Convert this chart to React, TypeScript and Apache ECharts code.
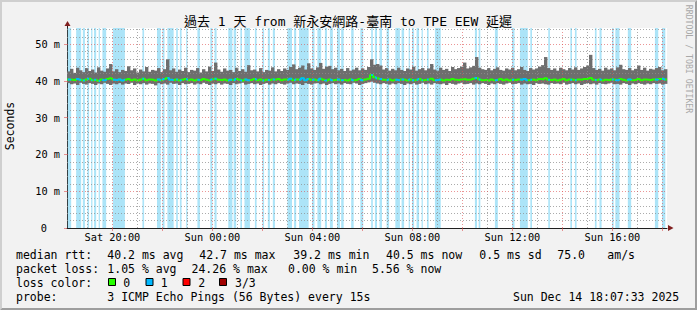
import React, { useEffect, useRef } from 'react';
import * as echarts from 'echarts';

// time in minutes since Sat 00:00
const SAMPLE_START = 1091;
const SAMPLE_STEP = 7.2;
const RANGE_END = 2531;
const Y_MAX = 54.4;

const smokeMax = [
  42.6, 43.3, 42.2, 43.6, 42.9, 42.4, 43.5, 42.7, 43.1, 42.3,
  43.7, 42.8, 42.5, 43.4, 44.6, 42.6, 43.2, 42.4, 43.0, 42.7,
  44.0, 42.9, 43.4, 42.3, 43.1, 42.6, 43.8, 42.5, 43.0, 42.8,
  43.5, 42.4, 43.2, 45.9, 42.9, 43.4, 42.5, 43.1, 42.7, 43.6,
  42.4, 43.0, 42.8, 43.5, 42.3, 43.2, 42.6, 43.9, 42.7, 45.0,
  43.1, 42.5, 43.4, 42.8, 43.0, 42.4, 43.6, 42.7, 43.2, 42.5,
  44.3, 42.9, 43.1, 42.6, 43.5, 42.4, 43.0, 42.8, 43.7, 42.6,
  43.2, 42.7, 43.4, 43.0, 43.8, 44.5, 43.2, 43.6, 44.2, 43.1,
  44.8, 43.4, 43.0, 43.7, 44.9, 43.3, 43.9, 44.1, 43.2, 43.6,
  42.9, 43.3, 42.7, 43.5, 42.8, 43.1, 43.6, 42.9, 43.4, 43.0,
  43.8, 45.9, 44.4, 44.6, 44.2, 43.1, 43.5, 42.8, 43.3, 42.9,
  43.6, 43.0, 42.7, 43.4, 43.1, 43.9, 42.8, 43.2, 43.5, 42.9,
  43.4, 44.6, 43.1, 42.8, 43.6, 43.0, 43.3, 42.7, 43.8, 43.2,
  43.5, 43.9, 45.0, 43.4, 43.7, 44.1, 46.5, 43.6, 43.2, 43.0,
  43.5, 42.9, 43.3, 43.7, 43.0, 42.8, 43.4, 43.1, 43.6, 42.9,
  43.2, 43.8, 43.0, 42.7, 43.5, 43.1, 43.4, 43.9, 44.3, 46.5,
  43.5, 43.0, 43.4, 42.8, 43.6, 43.2, 42.9, 43.5, 43.1, 43.7,
  43.0, 43.4, 43.8, 44.2, 47.1, 43.5, 43.0, 43.3, 42.8, 43.6,
  43.1, 43.4, 42.9, 43.7, 44.4, 43.2, 43.0, 43.5, 42.9, 43.3,
  44.2, 43.0, 43.6, 42.8, 43.3, 43.1, 43.5, 43.8, 42.9, 43.2,
];

const smokeMin = [
  39.4, 39.1, 39.3, 38.9, 39.5, 39.2, 39.0, 39.4, 39.2, 38.9,
  39.3, 39.1, 39.5, 39.2, 38.9, 39.3, 39.1, 39.4, 39.0, 39.3,
  39.2, 39.5, 38.9, 39.3, 39.1, 39.4, 39.0, 39.3, 39.2, 38.8,
  39.4, 39.1, 39.3, 39.0, 39.5, 39.2, 39.3, 38.9, 39.4, 39.1,
  39.2, 39.4, 39.0, 39.3, 39.1, 39.5, 39.2, 38.9, 39.3, 39.1,
  39.4, 39.0, 39.3, 39.2, 38.9, 39.4, 39.1, 39.3, 39.5, 39.0,
  39.2, 39.4, 39.1, 39.3, 38.9, 39.2, 39.4, 39.0, 39.3, 39.1,
  39.4, 39.2, 39.0, 39.3, 39.5, 39.1, 39.3, 39.2, 38.9, 39.4,
  39.2, 39.0, 39.3, 39.4, 39.1, 39.3, 38.9, 39.2, 39.4, 39.1,
  39.3, 39.0, 39.4, 39.2, 39.1, 39.5, 39.3, 38.9, 39.2, 39.4,
  39.6, 39.8, 39.5, 39.3, 39.1, 39.4, 39.2, 39.0, 39.3, 39.1,
  39.4, 39.2, 38.9, 39.3, 39.1, 39.4, 39.0, 39.2, 39.5, 39.1,
  39.3, 39.0, 39.4, 39.2, 39.1, 39.3, 38.9, 39.4, 39.2, 39.0,
  39.3, 39.5, 39.1, 39.2, 39.4, 39.0, 39.3, 39.1, 39.4, 39.2,
  38.9, 39.3, 39.1, 39.4, 39.2, 39.0, 39.3, 39.5, 39.1, 39.2,
  39.4, 39.0, 39.3, 39.1, 39.2, 38.9, 39.4, 39.2, 39.3, 39.1,
  39.0, 39.4, 39.2, 39.3, 39.1, 39.5, 39.0, 39.2, 39.4, 39.1,
  39.3, 38.9, 39.2, 39.4, 39.1, 39.3, 39.0, 39.4, 39.2, 39.1,
  39.3, 39.5, 39.1, 39.2, 39.0, 39.4, 39.2, 38.9, 39.3, 39.1,
  39.4, 39.2, 39.0, 39.3, 39.1, 39.4, 39.2, 39.3, 39.0, 39.2,
];

const medianRtt = [
  40.4, 40.3, 40.2, 40.5, 40.3, 40.1, 40.4, 40.6, 40.2, 40.3,
  40.0, 40.4, 40.2, 40.5, 40.7, 40.3, 40.2, 40.4, 40.1, 40.3,
  40.5, 40.2, 40.4, 40.1, 40.3, 40.6, 40.2, 40.4, 40.3, 40.1,
  40.4, 40.2, 40.5, 40.8, 40.3, 40.2, 40.4, 40.1, 40.3, 40.5,
  40.2, 40.4, 40.1, 40.3, 40.2, 40.5, 40.3, 40.1, 40.4, 40.6,
  40.3, 40.2, 40.4, 40.1, 40.3, 40.2, 40.5, 40.3, 40.1, 40.4,
  40.2, 40.3, 40.5, 40.2, 40.4, 40.1, 40.3, 40.2, 40.4, 40.3,
  40.5, 40.2, 40.4, 40.3, 40.6, 40.2, 40.4, 40.3, 40.7, 40.2,
  40.5, 40.3, 40.4, 40.2, 40.6, 40.3, 40.1, 40.4, 40.2, 40.3,
  40.4, 40.2, 40.3, 40.1, 40.4, 40.2, 40.3, 40.5, 40.2, 40.4,
  40.6, 41.6, 41.0, 40.7, 40.5, 40.3, 40.2, 40.4, 40.1, 40.3,
  40.2, 40.4, 40.3, 40.1, 40.4, 40.2, 40.3, 40.5, 40.2, 40.3,
  40.4, 40.6, 40.2, 40.3, 40.4, 40.1, 40.3, 40.2, 40.5, 40.3,
  40.2, 40.4, 40.5, 40.3, 40.4, 40.6, 40.8, 40.4, 40.2, 40.3,
  40.1, 40.4, 40.2, 40.3, 40.5, 40.2, 40.4, 40.1, 40.3, 40.2,
  40.4, 40.3, 40.5, 40.2, 40.3, 40.4, 40.2, 40.5, 40.4, 40.7,
  40.3, 40.2, 40.4, 40.1, 40.3, 40.5, 40.2, 40.4, 40.3, 40.2,
  40.4, 40.3, 40.5, 40.6, 40.8, 40.3, 40.2, 40.4, 40.1, 40.3,
  40.2, 40.4, 40.3, 40.2, 40.5, 40.3, 40.1, 40.4, 40.2, 40.3,
  40.5, 40.2, 40.4, 40.3, 40.2, 40.4, 40.3, 40.5, 40.6, 40.4,
];

// periods with packet loss (start, end) in minutes since Sat 00:00
const lossBands: [number, number][] = [
  [1093, 1101], [1113, 1125], [1129, 1134], [1140, 1144], [1149, 1152],
  [1156, 1161], [1167, 1170], [1176, 1185], [1201, 1230], [1272, 1276],
  [1307, 1316], [1320, 1325], [1332, 1347], [1353, 1357], [1362, 1366],
  [1377, 1380], [1404, 1410], [1435, 1440], [1445, 1450], [1478, 1488],
  [1491, 1497], [1507, 1511], [1517, 1530], [1542, 1546], [1560, 1564],
  [1573, 1578], [1585, 1590], [1620, 1631], [1636, 1641], [1648, 1671],
  [1679, 1685], [1692, 1701], [1710, 1715], [1722, 1729], [1739, 1746],
  [1749, 1755], [1773, 1779], [1795, 1802], [1821, 1825], [1830, 1835],
  [1841, 1847], [1858, 1864], [1879, 1890], [1894, 1900], [1911, 1914],
  [1919, 1924], [1930, 1936], [1942, 1945], [1955, 1959], [1974, 1988],
  [2070, 2075], [2079, 2083], [2118, 2125], [2159, 2165], [2178, 2197],
  [2203, 2207], [2246, 2250], [2299, 2303], [2310, 2314], [2358, 2362],
  [2369, 2374], [2399, 2403], [2407, 2417], [2437, 2445], [2502, 2510],
  [2519, 2527],
];

const yLabelValues = [0, 10, 20, 30, 40, 50];
const xLabelValues = [1200, 1440, 1680, 1920, 2160, 2400];
const dayNames = ['Sat', 'Sun'];

const TITLE = '過去 1 天 from 新永安網路-臺南 to TPE EEW 延遲';
const lineRtt = [
  ['median rtt:', 16], ['40.2 ms avg', 107.3], ['42.7 ms max', 199.3], ['39.2 ms min', 293.3],
  ['40.5 ms now', 386], ['0.5 ms sd', 479.3], ['75.0', 557.3], ['am/s', 607.3],
];
const lineLoss = [
  ['packet loss:', 16], ['1.05 % avg', 107.3], ['24.26 % max', 191.5], ['0.00 % min', 288], ['5.56 % now', 372],
];
const lossColors = [
  { label: '0', color: '#26ff00' },
  { label: '1', color: '#00b8ff' },
  { label: '2', color: '#ff0000' },
  { label: '3/3', color: '#a00000' },
];
const PROBE = '3 ICMP Echo Pings (56 Bytes) every 15s';
const STAMP = 'Sun Dec 14 18:07:33 2025';

const MONO = "'DejaVu Sans Mono', 'Noto Sans CJK TC', monospace";
const GRID_MINOR = 'rgba(143,143,143,0.75)';
const GRID_MAJOR = 'rgba(222,79,79,0.6)';

function pad(n: number) { return (n < 10 ? '0' : '') + n; }

export default function App() {
  const ref = useRef<HTMLDivElement>(null);
  useEffect(() => {
    if (!ref.current) return;
    const chart = echarts.init(ref.current, undefined, { renderer: 'svg' });

    const sampleTime = (i: number) => SAMPLE_START + i * SAMPLE_STEP;
    const smokeData = smokeMax.map((hi, i) => [sampleTime(i), sampleTime(i + 1), smokeMin[i], hi]);
    const medianData: any[] = medianRtt.map((m, i) => [sampleTime(i), m]);
    medianData.push([RANGE_END, medianRtt[medianRtt.length - 1]]);
    const medianAt = (t: number) => medianRtt[Math.min(medianRtt.length - 1, Math.max(0, Math.floor((t - SAMPLE_START) / SAMPLE_STEP)))];
    const blueData: any[] = [];
    lossBands.forEach(([s, e]) => {
      blueData.push([s, medianAt(s)]);
      let k = Math.floor((s - SAMPLE_START) / SAMPLE_STEP) + 1;
      while (sampleTime(k) < e) { blueData.push([sampleTime(k), medianRtt[k]]); k++; }
      blueData.push([e, medianAt(e - 0.01)]);
      blueData.push([e, null]);
    });

    const gridLines: any[] = [];
    for (let t = Math.ceil(SAMPLE_START / 60) * 60; t < RANGE_END; t += 60) {
      const major = (t / 60) % 2 === 0;
      gridLines.push({ xAxis: t, lineStyle: { color: major ? GRID_MAJOR : GRID_MINOR, type: [1, 2], width: 1 } });
    }
    for (let v = 2; v < Y_MAX; v += 2) {
      const major = v % 10 === 0;
      gridLines.push({ yAxis: v, lineStyle: { color: major ? GRID_MAJOR : GRID_MINOR, type: [1, 2], width: 1 } });
    }

    const texts: any[] = [];
    const addText = (text: string, x: number, y: number, extra: any = {}) => {
      texts.push({ type: 'text', x, y, silent: true, style: { text, fill: '#000', font: `11.5px ${MONO}`, textVerticalAlign: 'middle', ...extra } });
    };
    lineRtt.forEach(([t, x]) => addText(t as string, x as number, 254.5));
    lineLoss.forEach(([t, x]) => addText(t as string, x as number, 268.5));
    addText('loss color:', 16, 282.5);
    const boxX = [108.5, 146, 183, 219.5];
    const labX = [123.3, 160.7, 198.3, 235];
    lossColors.forEach((c, i) => {
      texts.push({ type: 'rect', shape: { x: boxX[i], y: 278.5, width: 7, height: 7 }, style: { fill: c.color, stroke: '#000', lineWidth: 1 }, silent: true });
      addText(c.label, labX[i], 282.5);
    });
    addText('probe:', 16, 296.5);
    addText(PROBE, 107.3, 296.5);
    addText(STAMP, 513, 296.5);

    chart.setOption({
      animation: false,
      backgroundColor: '#f2f2f2',
      grid: { left: 67, top: 28, width: 600, height: 200, show: true, backgroundColor: '#ffffff', borderWidth: 0 },
      xAxis: {
        type: 'value', min: SAMPLE_START, max: RANGE_END,
        axisLine: { show: true, lineStyle: { color: '#1f1f1f', width: 1 } },
        axisTick: { show: true, customValues: xLabelValues.concat(xLabelValues.map(v => v + 120)).filter(v => v < RANGE_END), length: 3, lineStyle: { color: GRID_MAJOR } },
        splitLine: { show: false },
        axisLabel: {
          customValues: xLabelValues, margin: 4, color: '#000', fontFamily: MONO, fontSize: 10.3,
          formatter: (v: number) => {
            const d = Math.floor(v / 1440);
            const m = Math.round(v - d * 1440);
            return `${dayNames[d]} ${pad(Math.floor(m / 60))}:${pad(m % 60)}`;
          },
        },
      },
      yAxis: {
        type: 'value', min: 0, max: Y_MAX,
        axisLine: { show: true, lineStyle: { color: '#1f1f1f', width: 1 } },
        axisTick: { show: true, customValues: yLabelValues, length: 3, lineStyle: { color: GRID_MAJOR } },
        splitLine: { show: false },
        axisLabel: {
          customValues: yLabelValues, margin: 7, color: '#000', fontFamily: MONO, fontSize: 10.3,
          formatter: (v: number) => (v === 0 ? '{z|0}' : `${v} m`),
          rich: { z: { padding: [0, 13, 0, 0], fontFamily: MONO, fontSize: 10.3, color: '#000' } },
        },
      },
      series: [
        {
          type: 'custom', z: 1, silent: true,
          data: lossBands,
          encode: { x: [0, 1] },
          renderItem: (params: any, api: any) => {
            const cs = params.coordSys;
            const p0 = api.coord([api.value(0), 0]);
            const p1 = api.coord([api.value(1), 0]);
            return { type: 'rect', shape: { x: p0[0], y: cs.y, width: Math.max(1, p1[0] - p0[0]), height: cs.height }, style: { fill: '#ace4f8' } };
          },
        },
        {
          type: 'line', z: 2, silent: true, data: [[SAMPLE_START, -10]], symbol: 'none', lineStyle: { opacity: 0 },
          markLine: { silent: true, symbol: ['none', 'none'], label: { show: false }, animation: false, data: gridLines },
        },
        {
          type: 'custom', z: 3, silent: true,
          data: smokeData,
          encode: { x: [0, 1], y: [2, 3] },
          renderItem: (params: any, api: any) => {
            const p0 = api.coord([api.value(0), api.value(3)]);
            const p1 = api.coord([api.value(1), api.value(2)]);
            return { type: 'rect', shape: { x: p0[0], y: p0[1], width: p1[0] - p0[0] + 0.4, height: p1[1] - p0[1] }, style: { fill: '#6e6e6e' } };
          },
        },
        {
          type: 'line', z: 4, silent: true, data: medianData, step: 'end', symbol: 'none',
          lineStyle: { color: '#26ff00', width: 2 },
        },
        {
          type: 'line', z: 5, silent: true, data: blueData, step: 'end', symbol: 'none', connectNulls: false,
          lineStyle: { color: '#00b8ff', width: 2 },
        },
      ],
      graphic: [
        { type: 'polygon', silent: true, shape: { points: [[0, 0], [697, 0], [695, 2], [2, 2], [2, 308], [0, 310]] }, style: { fill: '#cfcfcf' } },
        { type: 'polygon', silent: true, shape: { points: [[697, 0], [697, 310], [0, 310], [2, 308], [695, 308], [695, 2]] }, style: { fill: '#9e9e9e' } },
        { type: 'line', silent: true, shape: { x1: 67.5, y1: 28, x2: 67.5, y2: 24 }, style: { stroke: '#1f1f1f', lineWidth: 1 } },
        { type: 'polygon', silent: true, shape: { points: [[64.5, 26], [70.5, 26], [67.5, 21]] }, style: { fill: '#801f1f' } },
        { type: 'polygon', silent: true, shape: { points: [[668, 225], [668, 231], [673.5, 228]] }, style: { fill: '#801f1f' } },
        { type: 'text', silent: true, x: 348, y: 21.5, style: { text: TITLE, font: `13px ${MONO}`, fill: '#000', textAlign: 'center', textVerticalAlign: 'middle' } },
        { type: 'text', silent: true, x: 10, y: 126, rotation: Math.PI / 2, style: { text: 'Seconds', font: `11.5px ${MONO}`, fill: '#000', textAlign: 'center', textVerticalAlign: 'middle' } },
        { type: 'text', silent: true, x: 688.5, y: 59, rotation: -Math.PI / 2, style: { text: 'RRDTOOL / TOBI OETIKER', font: `8.2px ${MONO}`, fill: '#a8a8a8', textAlign: 'center', textVerticalAlign: 'middle' } },
        ...texts,
      ],
    });
    return () => chart.dispose();
  }, []);
  return <div ref={ref} style={{ position: 'fixed', left: 0, top: 0, width: 697, height: 310 }} />;
}
